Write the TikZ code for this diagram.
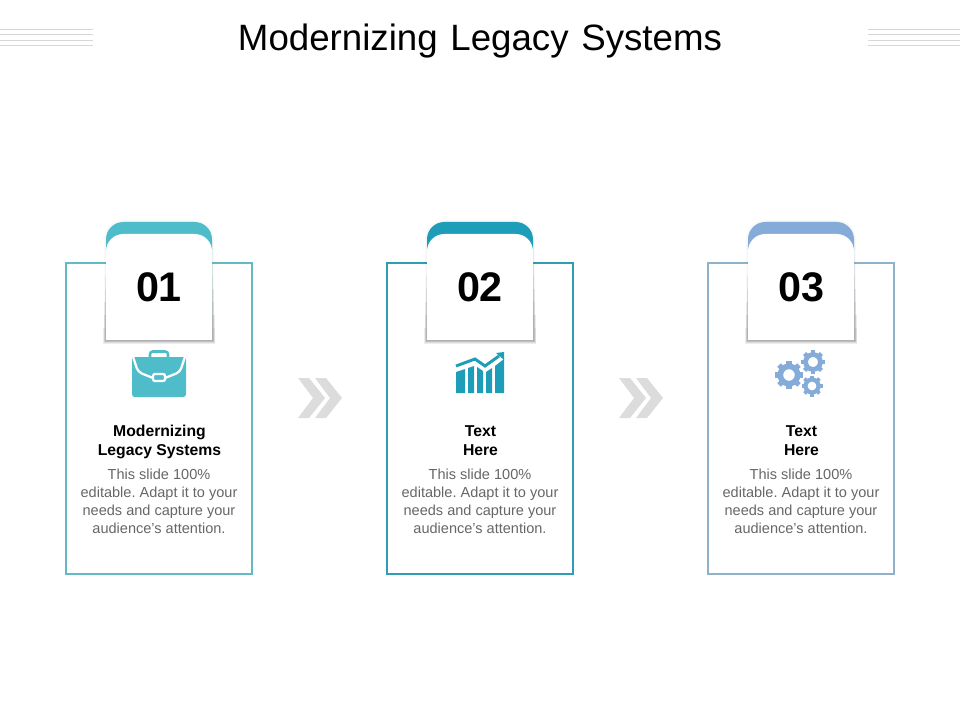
\documentclass[tikz,border=0pt]{standalone}
\usepackage{fontspec}
\setmainfont{Liberation Sans}
\newfontfamily\titlefont[WordSpace=1.25]{Liberation Sans}
\definecolor{tealA}{HTML}{4FBDC9}
\definecolor{tealB}{HTML}{1E9DB8}
\definecolor{blueC}{HTML}{85ABD9}
\definecolor{frameA}{HTML}{63BAC4}
\definecolor{frameB}{HTML}{2F9DB3}
\definecolor{frameC}{HTML}{8DB2C9}
\definecolor{chevgray}{HTML}{DCDCDC}
\definecolor{rulegray}{HTML}{D8D8D8}
\definecolor{bodygray}{HTML}{666666}
\newcommand{\tabpath}[2]{(#1-53,#2+106) [rounded corners=13pt] -- (#1-53,#2) -- (#1+53,#2) [sharp corners] -- (#1+53,#2+106) -- cycle}
\newcommand{\gearicon}[3]{%
  \foreach \a in {0,45,...,315} {
    \draw[blueC, line width=#3*0.27pt] ($(#1,#2)+(\a:#3*0.72)$) -- ($(#1,#2)+(\a:#3)$);
  }
  \draw[blueC, line width=#3*0.3pt] (#1,#2) circle[radius=#3*0.62];
}
\usetikzlibrary{calc}
\tikzset{
  cardframe/.style={draw, line width=1.5pt, minimum width=139.5pt, minimum height=233.25pt, inner sep=0pt},
  numlabel/.style={font=\bfseries\fontsize{31}{31}\selectfont, inner sep=0pt},
  headlabel/.style={font=\bfseries\fontsize{11.8}{14.2}\selectfont, align=center, anchor=north, inner sep=0pt},
  bodylabel/.style={font=\frenchspacing\fontsize{10.9}{13.3}\selectfont, text=bodygray, align=center, anchor=north, inner sep=0pt},
  titlelabel/.style={font=\titlefont\fontsize{27.5}{27.5}\selectfont, inner sep=0pt},
  toprule/.style={rulegray, line width=0.75pt},
  chevron/.style={fill=chevgray}
}
\begin{document}
\begin{tikzpicture}[x=0.75pt, y=-0.75pt]
\useasboundingbox (0,0) rectangle (960,720);
\node[titlelabel] (title) at (480,41) {Modernizing Legacy Systems};
% rules beside the title
\foreach \y in {29.5,34.5,40.5,45.5} {
  \draw[toprule] (0,\y) -- (93,\y);
  \draw[toprule] (868,\y) -- (960,\y);
}
% cards
\foreach \i/\x/\col/\framecol in {1/159/tealA/frameA, 2/480/tealB/frameB, 3/801/blueC/frameC} {
  \node[cardframe, draw=\framecol] (frame\i) at (\x,418.5) {};
  \foreach \s in {1,2} {
    \fill[black, opacity=0.02] (\x-53-\s,328) [rounded corners=14pt] -- (\x-53-\s,222-\s) -- (\x+53+\s,222-\s) [sharp corners] -- (\x+53+\s,328) -- cycle;
  }
  \foreach \s in {1,...,6} {
    \fill[black, opacity=0.07] (\x-53-0.5*\s,250+13*\s) rectangle (\x+53+0.5*\s,340+0.6*\s);
  }
  \fill[\col] \tabpath{\x}{222};
  \fill[white] \tabpath{\x}{234};
  \node[numlabel] (num\i) at (\x,287) {0\i};
}
% icon one
\fill[tealA, rounded corners=2pt] (132,357) -- (186,357) -- (186,397) -- (132,397) -- cycle;
\draw[tealA, line width=1.9pt, rounded corners=2pt] (150,358) -- (150,351.5) -- (168,351.5) -- (168,358);
\draw[white, line width=1.7pt, rounded corners=3pt] (132.5,355) -- (138,372) -- (153,378);
\draw[white, line width=1.7pt, rounded corners=3pt] (185.5,355) -- (180,372) -- (165,378);
\draw[white, line width=1.7pt, rounded corners=1.5pt, fill=tealA] (153,374) rectangle (165,381);
% icon two
\fill[tealB] (456,372) -- (465,369) -- (465,393) -- (456,393) -- cycle;
\fill[tealB] (468,368) -- (474,366) -- (474,393) -- (468,393) -- cycle;
\fill[tealB] (477,367) -- (483,371) -- (483,393) -- (477,393) -- cycle;
\fill[tealB] (486,372) -- (492,368) -- (492,393) -- (486,393) -- cycle;
\fill[tealB] (495,366) -- (504,359) -- (504,393) -- (495,393) -- cycle;
\draw[tealB, line width=2.2pt] (456,366) -- (475,359) -- (485,366) -- (499,356);
\fill[tealB] (496,353) -- (504,352) -- (504,360) -- cycle;
% icon three
\gearicon{789}{375}{14}
\gearicon{813}{362}{12}
\gearicon{812}{386}{10.5}
% chevrons between the cards
\foreach \x in {298,619} {
  \fill[chevron] (\x,378) -- (\x+11,378) -- (\x+27,398) -- (\x+11,418) -- (\x,418) -- (\x+15,398) -- cycle;
  \fill[chevron] (\x+17,378) -- (\x+28,378) -- (\x+44,398) -- (\x+28,418) -- (\x+17,418) -- (\x+32,398) -- cycle;
}
% card texts
\node[headlabel] (head1) at (159.5,425) {Modernizing\\Legacy Systems};
\node[headlabel] (head2) at (480.5,425) {Text\\Here};
\node[headlabel] (head3) at (801.5,425) {Text\\Here};
\foreach \i/\x in {1/159,2/480,3/801} {
  \node[bodylabel] (body\i) at (\x,469) {This slide 100\%\\editable. Adapt it to your\\needs and capture your\\audience’s attention.};
}
\end{tikzpicture}
\end{document}
